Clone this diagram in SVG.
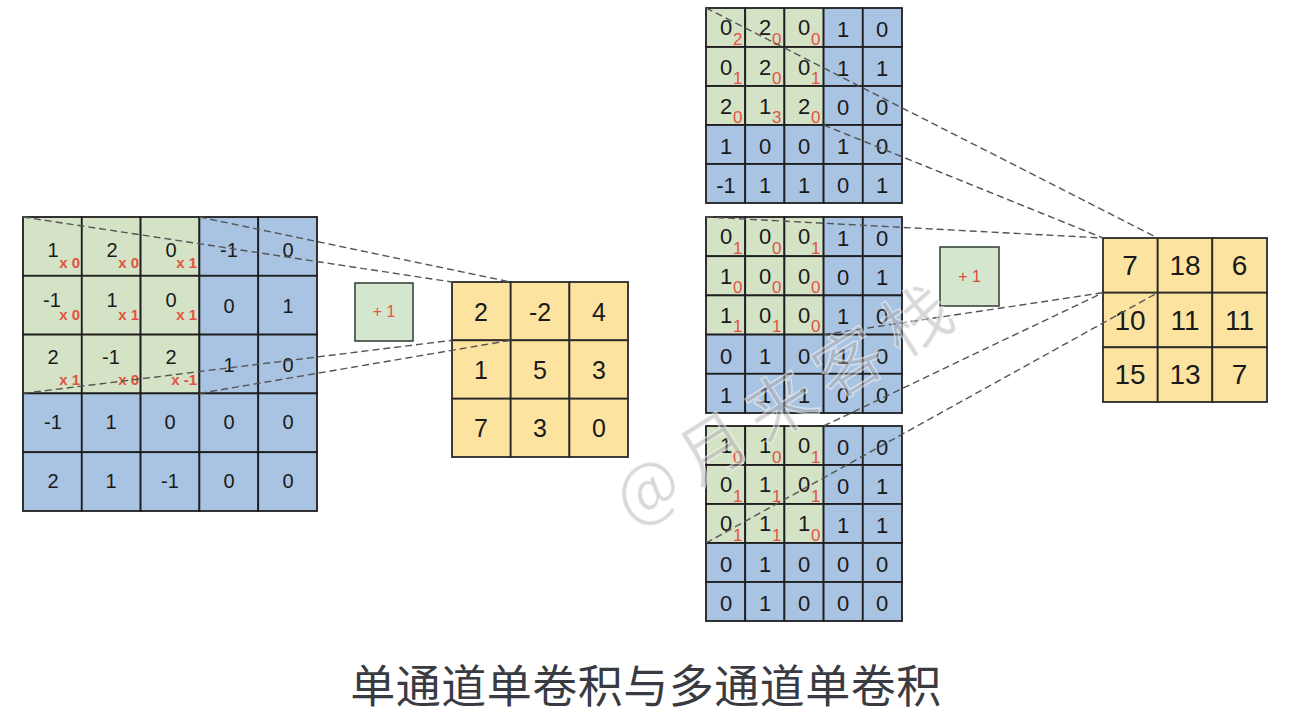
<svg xmlns="http://www.w3.org/2000/svg" width="1296" height="718" viewBox="0 0 1296 718">
<style>
.g{fill:#d4e2c6;stroke:#1e1e1e;stroke-width:1.8}
.b{fill:#a9c3e3;stroke:#1e1e1e;stroke-width:1.8}
.y{fill:#fde3a0;stroke:#2a2a2a;stroke-width:1.8}
.p{fill:#d5e6cf;stroke:#3a463a;stroke-width:1.6}
.n{font-family:"Liberation Sans",Arial,sans-serif;font-size:20px;fill:#1a1a1a;text-anchor:middle}
.m{font-family:"Liberation Sans",Arial,sans-serif;font-size:22px;fill:#1a1a1a;text-anchor:middle}
.o{font-family:"Liberation Sans",Arial,sans-serif;font-size:25px;fill:#1a1a1a;text-anchor:middle}
.oo{font-family:"Liberation Sans",Arial,sans-serif;font-size:28px;fill:#1a1a1a;text-anchor:middle}
.w{font-family:"Liberation Sans",Arial,sans-serif;font-size:15px;fill:#e2533f;text-anchor:end;font-weight:bold}
.s{font-family:"Liberation Sans",Arial,sans-serif;font-size:17px;fill:#e2533f;text-anchor:start}
.pl{font-family:"Liberation Sans",Arial,sans-serif;font-size:16px;fill:#e0583f;text-anchor:middle}
.d{fill:none;stroke:#555;stroke-width:1.4;stroke-dasharray:7 4}
</style>

<g id="left-input">
<rect class="g" x="23" y="217" width="58.8" height="58.8"/>
<rect class="g" x="81.8" y="217" width="58.8" height="58.8"/>
<rect class="g" x="140.6" y="217" width="58.8" height="58.8"/>
<rect class="b" x="199.4" y="217" width="58.8" height="58.8"/>
<rect class="b" x="258.2" y="217" width="58.8" height="58.8"/>
<rect class="g" x="23" y="275.8" width="58.8" height="58.8"/>
<rect class="g" x="81.8" y="275.8" width="58.8" height="58.8"/>
<rect class="g" x="140.6" y="275.8" width="58.8" height="58.8"/>
<rect class="b" x="199.4" y="275.8" width="58.8" height="58.8"/>
<rect class="b" x="258.2" y="275.8" width="58.8" height="58.8"/>
<rect class="g" x="23" y="334.6" width="58.8" height="58.8"/>
<rect class="g" x="81.8" y="334.6" width="58.8" height="58.8"/>
<rect class="g" x="140.6" y="334.6" width="58.8" height="58.8"/>
<rect class="b" x="199.4" y="334.6" width="58.8" height="58.8"/>
<rect class="b" x="258.2" y="334.6" width="58.8" height="58.8"/>
<rect class="b" x="23" y="393.4" width="58.8" height="58.8"/>
<rect class="b" x="81.8" y="393.4" width="58.8" height="58.8"/>
<rect class="b" x="140.6" y="393.4" width="58.8" height="58.8"/>
<rect class="b" x="199.4" y="393.4" width="58.8" height="58.8"/>
<rect class="b" x="258.2" y="393.4" width="58.8" height="58.8"/>
<rect class="b" x="23" y="452.2" width="58.8" height="58.8"/>
<rect class="b" x="81.8" y="452.2" width="58.8" height="58.8"/>
<rect class="b" x="140.6" y="452.2" width="58.8" height="58.8"/>
<rect class="b" x="199.4" y="452.2" width="58.8" height="58.8"/>
<rect class="b" x="258.2" y="452.2" width="58.8" height="58.8"/>
<text class="n" x="53" y="257">1</text><text class="w" x="80" y="268">x 0</text>
<text class="n" x="112" y="257">2</text><text class="w" x="139" y="268">x 0</text>
<text class="n" x="171" y="257">0</text><text class="w" x="197" y="268">x 1</text>
<text class="n" x="229" y="257">-1</text>
<text class="n" x="288" y="257">0</text>
<text class="n" x="52" y="307">-1</text><text class="w" x="80" y="320">x 0</text>
<text class="n" x="112" y="307">1</text><text class="w" x="139" y="320">x 1</text>
<text class="n" x="171" y="307">0</text><text class="w" x="197" y="320">x 1</text>
<text class="n" x="229" y="313">0</text>
<text class="n" x="288" y="313">1</text>
<text class="n" x="53" y="364">2</text><text class="w" x="80" y="385">x 1</text>
<text class="n" x="111" y="364">-1</text><text class="w" x="139" y="385">x 0</text>
<text class="n" x="171" y="364">2</text><text class="w" x="197" y="385">x -1</text>
<text class="n" x="229" y="372">1</text>
<text class="n" x="288" y="372">0</text>
<text class="n" x="53" y="429">-1</text>
<text class="n" x="111" y="429">1</text>
<text class="n" x="170" y="429">0</text>
<text class="n" x="229" y="429">0</text>
<text class="n" x="288" y="429">0</text>
<text class="n" x="53" y="488">2</text>
<text class="n" x="111" y="488">1</text>
<text class="n" x="170" y="488">-1</text>
<text class="n" x="229" y="488">0</text>
<text class="n" x="288" y="488">0</text>
</g>

<g id="left-bias">
<rect class="p" x="355" y="283" width="58" height="58"/>
<text class="pl" x="384" y="317">+ 1</text>
</g>

<g id="left-output">
<rect class="y" x="452" y="282" width="58.7" height="58.3"/>
<rect class="y" x="510.7" y="282" width="58.7" height="58.3"/>
<rect class="y" x="569.4" y="282" width="58.6" height="58.3"/>
<rect class="y" x="452" y="340.3" width="58.7" height="58.4"/>
<rect class="y" x="510.7" y="340.3" width="58.7" height="58.4"/>
<rect class="y" x="569.4" y="340.3" width="58.6" height="58.4"/>
<rect class="y" x="452" y="398.7" width="58.7" height="58.3"/>
<rect class="y" x="510.7" y="398.7" width="58.7" height="58.3"/>
<rect class="y" x="569.4" y="398.7" width="58.6" height="58.3"/>
<text class="o" x="481" y="321">2</text>
<text class="o" x="540" y="321">-2</text>
<text class="o" x="599" y="321">4</text>
<text class="o" x="481" y="379">1</text>
<text class="o" x="540" y="379">5</text>
<text class="o" x="599" y="379">3</text>
<text class="o" x="481" y="437">7</text>
<text class="o" x="540" y="437">3</text>
<text class="o" x="599" y="437">0</text>
</g>

<g id="channel-1">
<rect class="g" x="706" y="8" width="39.2" height="39"/>
<rect class="g" x="745.2" y="8" width="39.2" height="39"/>
<rect class="g" x="784.4" y="8" width="39.2" height="39"/>
<rect class="b" x="823.6" y="8" width="39.2" height="39"/>
<rect class="b" x="862.8" y="8" width="39.2" height="39"/>
<rect class="g" x="706" y="47" width="39.2" height="39"/>
<rect class="g" x="745.2" y="47" width="39.2" height="39"/>
<rect class="g" x="784.4" y="47" width="39.2" height="39"/>
<rect class="b" x="823.6" y="47" width="39.2" height="39"/>
<rect class="b" x="862.8" y="47" width="39.2" height="39"/>
<rect class="g" x="706" y="86" width="39.2" height="39"/>
<rect class="g" x="745.2" y="86" width="39.2" height="39"/>
<rect class="g" x="784.4" y="86" width="39.2" height="39"/>
<rect class="b" x="823.6" y="86" width="39.2" height="39"/>
<rect class="b" x="862.8" y="86" width="39.2" height="39"/>
<rect class="b" x="706" y="125" width="39.2" height="39"/>
<rect class="b" x="745.2" y="125" width="39.2" height="39"/>
<rect class="b" x="784.4" y="125" width="39.2" height="39"/>
<rect class="b" x="823.6" y="125" width="39.2" height="39"/>
<rect class="b" x="862.8" y="125" width="39.2" height="39"/>
<rect class="b" x="706" y="164" width="39.2" height="39"/>
<rect class="b" x="745.2" y="164" width="39.2" height="39"/>
<rect class="b" x="784.4" y="164" width="39.2" height="39"/>
<rect class="b" x="823.6" y="164" width="39.2" height="39"/>
<rect class="b" x="862.8" y="164" width="39.2" height="39"/>
<text class="m" x="726" y="35">0</text><text class="s" x="733" y="45">2</text>
<text class="m" x="765" y="35">2</text><text class="s" x="772" y="45">0</text>
<text class="m" x="804" y="35">0</text><text class="s" x="811" y="45">0</text>
<text class="m" x="843" y="37">1</text>
<text class="m" x="882" y="37">0</text>
<text class="m" x="726" y="75">0</text><text class="s" x="733" y="84">1</text>
<text class="m" x="765" y="75">2</text><text class="s" x="772" y="84">0</text>
<text class="m" x="804" y="75">0</text><text class="s" x="811" y="84">1</text>
<text class="m" x="843" y="76">1</text>
<text class="m" x="882" y="76">1</text>
<text class="m" x="726" y="114">2</text><text class="s" x="733" y="123">0</text>
<text class="m" x="765" y="114">1</text><text class="s" x="772" y="123">3</text>
<text class="m" x="804" y="114">2</text><text class="s" x="811" y="123">0</text>
<text class="m" x="843" y="115">0</text>
<text class="m" x="882" y="115">0</text>
<text class="m" x="726" y="154">1</text>
<text class="m" x="765" y="154">0</text>
<text class="m" x="804" y="154">0</text>
<text class="m" x="843" y="154">1</text>
<text class="m" x="882" y="154">0</text>
<text class="m" x="726" y="193">-1</text>
<text class="m" x="765" y="193">1</text>
<text class="m" x="804" y="193">1</text>
<text class="m" x="843" y="193">0</text>
<text class="m" x="882" y="193">1</text>
</g>

<g id="channel-2">
<rect class="g" x="706" y="217" width="39.2" height="39.2"/>
<rect class="g" x="745.2" y="217" width="39.2" height="39.2"/>
<rect class="g" x="784.4" y="217" width="39.2" height="39.2"/>
<rect class="b" x="823.6" y="217" width="39.2" height="39.2"/>
<rect class="b" x="862.8" y="217" width="39.2" height="39.2"/>
<rect class="g" x="706" y="256.2" width="39.2" height="39.2"/>
<rect class="g" x="745.2" y="256.2" width="39.2" height="39.2"/>
<rect class="g" x="784.4" y="256.2" width="39.2" height="39.2"/>
<rect class="b" x="823.6" y="256.2" width="39.2" height="39.2"/>
<rect class="b" x="862.8" y="256.2" width="39.2" height="39.2"/>
<rect class="g" x="706" y="295.4" width="39.2" height="39.2"/>
<rect class="g" x="745.2" y="295.4" width="39.2" height="39.2"/>
<rect class="g" x="784.4" y="295.4" width="39.2" height="39.2"/>
<rect class="b" x="823.6" y="295.4" width="39.2" height="39.2"/>
<rect class="b" x="862.8" y="295.4" width="39.2" height="39.2"/>
<rect class="b" x="706" y="334.6" width="39.2" height="39.2"/>
<rect class="b" x="745.2" y="334.6" width="39.2" height="39.2"/>
<rect class="b" x="784.4" y="334.6" width="39.2" height="39.2"/>
<rect class="b" x="823.6" y="334.6" width="39.2" height="39.2"/>
<rect class="b" x="862.8" y="334.6" width="39.2" height="39.2"/>
<rect class="b" x="706" y="373.8" width="39.2" height="39.2"/>
<rect class="b" x="745.2" y="373.8" width="39.2" height="39.2"/>
<rect class="b" x="784.4" y="373.8" width="39.2" height="39.2"/>
<rect class="b" x="823.6" y="373.8" width="39.2" height="39.2"/>
<rect class="b" x="862.8" y="373.8" width="39.2" height="39.2"/>
<text class="m" x="726" y="244">0</text><text class="s" x="733" y="254">1</text>
<text class="m" x="765" y="244">0</text><text class="s" x="772" y="254">0</text>
<text class="m" x="804" y="244">0</text><text class="s" x="811" y="254">1</text>
<text class="m" x="843" y="246">1</text>
<text class="m" x="882" y="246">0</text>
<text class="m" x="726" y="284">1</text><text class="s" x="733" y="293">0</text>
<text class="m" x="765" y="284">0</text><text class="s" x="772" y="293">0</text>
<text class="m" x="804" y="284">0</text><text class="s" x="811" y="293">0</text>
<text class="m" x="843" y="285">0</text>
<text class="m" x="882" y="285">1</text>
<text class="m" x="726" y="323">1</text><text class="s" x="733" y="332">1</text>
<text class="m" x="765" y="323">0</text><text class="s" x="772" y="332">1</text>
<text class="m" x="804" y="323">0</text><text class="s" x="811" y="332">0</text>
<text class="m" x="843" y="324">1</text>
<text class="m" x="882" y="324">0</text>
<text class="m" x="726" y="364">0</text>
<text class="m" x="765" y="364">1</text>
<text class="m" x="804" y="364">0</text>
<text class="m" x="843" y="364">1</text>
<text class="m" x="882" y="364">0</text>
<text class="m" x="726" y="403">1</text>
<text class="m" x="765" y="403">1</text>
<text class="m" x="804" y="403">1</text>
<text class="m" x="843" y="403">0</text>
<text class="m" x="882" y="403">0</text>
</g>

<g id="channel-3">
<rect class="g" x="706" y="426" width="39.2" height="39"/>
<rect class="g" x="745.2" y="426" width="39.2" height="39"/>
<rect class="g" x="784.4" y="426" width="39.2" height="39"/>
<rect class="b" x="823.6" y="426" width="39.2" height="39"/>
<rect class="b" x="862.8" y="426" width="39.2" height="39"/>
<rect class="g" x="706" y="465" width="39.2" height="39"/>
<rect class="g" x="745.2" y="465" width="39.2" height="39"/>
<rect class="g" x="784.4" y="465" width="39.2" height="39"/>
<rect class="b" x="823.6" y="465" width="39.2" height="39"/>
<rect class="b" x="862.8" y="465" width="39.2" height="39"/>
<rect class="g" x="706" y="504" width="39.2" height="39"/>
<rect class="g" x="745.2" y="504" width="39.2" height="39"/>
<rect class="g" x="784.4" y="504" width="39.2" height="39"/>
<rect class="b" x="823.6" y="504" width="39.2" height="39"/>
<rect class="b" x="862.8" y="504" width="39.2" height="39"/>
<rect class="b" x="706" y="543" width="39.2" height="39"/>
<rect class="b" x="745.2" y="543" width="39.2" height="39"/>
<rect class="b" x="784.4" y="543" width="39.2" height="39"/>
<rect class="b" x="823.6" y="543" width="39.2" height="39"/>
<rect class="b" x="862.8" y="543" width="39.2" height="39"/>
<rect class="b" x="706" y="582" width="39.2" height="39"/>
<rect class="b" x="745.2" y="582" width="39.2" height="39"/>
<rect class="b" x="784.4" y="582" width="39.2" height="39"/>
<rect class="b" x="823.6" y="582" width="39.2" height="39"/>
<rect class="b" x="862.8" y="582" width="39.2" height="39"/>
<text class="m" x="726" y="453">1</text><text class="s" x="733" y="463">0</text>
<text class="m" x="765" y="453">1</text><text class="s" x="772" y="463">0</text>
<text class="m" x="804" y="453">0</text><text class="s" x="811" y="463">1</text>
<text class="m" x="843" y="455">0</text>
<text class="m" x="882" y="455">0</text>
<text class="m" x="726" y="492">0</text><text class="s" x="733" y="502">1</text>
<text class="m" x="765" y="492">1</text><text class="s" x="772" y="502">1</text>
<text class="m" x="804" y="492">0</text><text class="s" x="811" y="502">1</text>
<text class="m" x="843" y="494">0</text>
<text class="m" x="882" y="494">1</text>
<text class="m" x="726" y="531">0</text><text class="s" x="733" y="541">1</text>
<text class="m" x="765" y="531">1</text><text class="s" x="772" y="541">1</text>
<text class="m" x="804" y="531">1</text><text class="s" x="811" y="541">0</text>
<text class="m" x="843" y="533">1</text>
<text class="m" x="882" y="533">1</text>
<text class="m" x="726" y="572">0</text>
<text class="m" x="765" y="572">1</text>
<text class="m" x="804" y="572">0</text>
<text class="m" x="843" y="572">0</text>
<text class="m" x="882" y="572">0</text>
<text class="m" x="726" y="611">0</text>
<text class="m" x="765" y="611">1</text>
<text class="m" x="804" y="611">0</text>
<text class="m" x="843" y="611">0</text>
<text class="m" x="882" y="611">0</text>
</g>

<g id="right-bias">
<rect class="p" x="940" y="247" width="59" height="59"/>
<text class="pl" x="969.5" y="282" style="fill:#d84a3a">+ 1</text>
</g>

<g id="right-output">
<rect class="y" x="1103" y="238" width="54.7" height="54.7"/>
<rect class="y" x="1157.7" y="238" width="54.6" height="54.7"/>
<rect class="y" x="1212.3" y="238" width="54.7" height="54.7"/>
<rect class="y" x="1103" y="292.7" width="54.7" height="54.6"/>
<rect class="y" x="1157.7" y="292.7" width="54.6" height="54.6"/>
<rect class="y" x="1212.3" y="292.7" width="54.7" height="54.6"/>
<rect class="y" x="1103" y="347.3" width="54.7" height="54.7"/>
<rect class="y" x="1157.7" y="347.3" width="54.6" height="54.7"/>
<rect class="y" x="1212.3" y="347.3" width="54.7" height="54.7"/>
<text class="oo" x="1130" y="275">7</text>
<text class="oo" x="1185" y="275">18</text>
<text class="oo" x="1239.5" y="275">6</text>
<text class="oo" x="1130" y="330">10</text>
<text class="oo" x="1185" y="330">11</text>
<text class="oo" x="1239.5" y="330">11</text>
<text class="oo" x="1130" y="384">15</text>
<text class="oo" x="1185" y="384">13</text>
<text class="oo" x="1239.5" y="384">7</text>
</g>

<g id="connectors">
<line class="d" x1="23" y1="217" x2="452" y2="282"/>
<line class="d" x1="199.4" y1="217" x2="510.7" y2="282"/>
<line class="d" x1="23" y1="393.4" x2="452" y2="340.3"/>
<line class="d" x1="199.4" y1="393.4" x2="510.7" y2="340.3"/>
<line class="d" x1="706" y1="8" x2="1157.7" y2="238"/>
<line class="d" x1="823.6" y1="125" x2="1103" y2="238"/>
<line class="d" x1="706" y1="217" x2="1103" y2="238"/>
<line class="d" x1="823.6" y1="334.6" x2="1103" y2="292.7"/>
<line class="d" x1="823.6" y1="426" x2="1103" y2="292.7"/>
<line class="d" x1="706" y1="543" x2="1157.7" y2="292.7"/>
</g>

<g id="watermark">
<text x="790" y="425" transform="rotate(-32 790 405)" style="font-family:'Noto Sans CJK SC','Noto Sans',sans-serif;font-size:68px;letter-spacing:12px;text-anchor:middle;fill:#a8a8a8;fill-opacity:0.45;stroke:#ffffff;stroke-opacity:0.5;stroke-width:1.5">@月来客栈</text>
</g>

<g id="title">
<text x="646" y="703" style="font-family:'Noto Sans CJK SC','Noto Sans',sans-serif;font-size:45px;letter-spacing:0.5px;text-anchor:middle;fill:#3a3b42">单通道单卷积与多通道单卷积</text>
</g>
</svg>
